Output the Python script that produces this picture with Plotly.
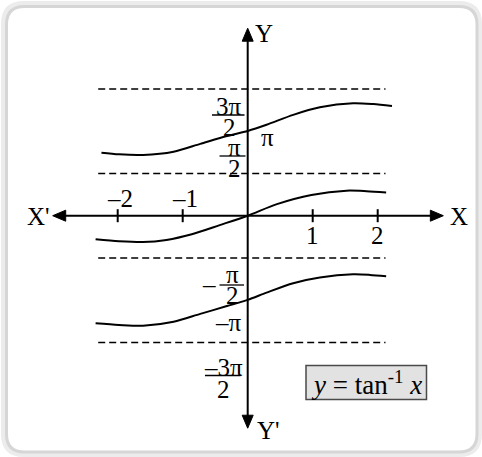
import math
import plotly.graph_objects as go

# ---------------- data ----------------
PI = math.pi
# principal branch (through the origin)
x_mid = [-2.34, -1.98, -1.61, -1.25, -0.86, -0.43, 0.0, 0.45, 0.98, 1.52, 1.83, 2.13]
y_mid = [-0.88, -0.95, -0.98, -0.90, -0.69, -0.35, 0.0, 0.43, 0.77, 0.93, 0.91, 0.86]
# upper branch (through pi)
x_up = [-2.25, -1.98, -1.61, -1.14, -0.73, -0.32, 0.0, 0.29, 0.70, 1.11, 1.62, 1.93, 2.22]
y_up = [2.34, 2.28, 2.26, 2.38, 2.67, 2.96, 3.15, 3.38, 3.75, 4.03, 4.18, 4.15, 4.08]
# lower branch (through -pi)
x_low = [-2.34, -1.98, -1.61, -1.14, -0.73, -0.32, 0.0, 0.29, 0.70, 1.11, 1.62, 1.88, 2.13]
y_low = [-4.00, -4.06, -4.09, -3.94, -3.65, -3.36, -3.13, -2.86, -2.51, -2.30, -2.18, -2.20, -2.25]

asymptote_y = [3 * PI / 2, PI / 2, -PI / 2, -3 * PI / 2]
asymptote_x = [-2.30, 2.12]

x_ticks = [-2, -1, 1, 2]
x_tick_labels = ["\u20132", "\u20131", "1", "2"]
x_axis_ends = [-3.0, 3.01]
y_axis_ends = [-7.9, 6.97]

# ---------------- layout helpers (pixel <-> data) ----------------
W, H = 482, 457
X0, SX = 247.7, 65.0     # pixel of x=0, pixels per x unit
Y0, SY = 215.7, 26.9     # pixel of y=0, pixels per y unit


def dx(px):
    return (px - X0) / SX


def dy(py):
    return (Y0 - py) / SY


def ux(pixels):
    return pixels / SX


def uy(pixels):
    return pixels / SY


FONT = "Liberation Serif"
FS = 25

fig = go.Figure()

line_style = dict(color="black", width=2, shape="spline", smoothing=0.8)
for xs, ys in [(x_up, y_up), (x_mid, y_mid), (x_low, y_low)]:
    fig.add_trace(go.Scatter(x=xs, y=ys, mode="lines", line=line_style,
                             hoverinfo="skip", showlegend=False))

shapes = []
# dashed asymptotes
for yv in asymptote_y:
    shapes.append(dict(type="line", xref="x", yref="y",
                       x0=asymptote_x[0], x1=asymptote_x[1], y0=yv, y1=yv,
                       line=dict(color="black", width=1.4, dash="7px,4px")))

# axes
shapes.append(dict(type="line", xref="x", yref="y", x0=x_axis_ends[0] + ux(4), x1=x_axis_ends[1] - ux(4),
                   y0=0, y1=0, line=dict(color="black", width=2)))
shapes.append(dict(type="line", xref="x", yref="y", x0=0, x1=0,
                   y0=y_axis_ends[0] + uy(4), y1=y_axis_ends[1] - uy(4),
                   line=dict(color="black", width=2)))

# arrow heads
AL, AW = 13, 5.5


def tri(points):
    return "M " + " L ".join(f"{a},{b}" for a, b in points) + " Z"


arrow_paths = [
    tri([(x_axis_ends[0], 0), (x_axis_ends[0] + ux(AL), uy(AW)), (x_axis_ends[0] + ux(AL), -uy(AW))]),
    tri([(x_axis_ends[1], 0), (x_axis_ends[1] - ux(AL), uy(AW)), (x_axis_ends[1] - ux(AL), -uy(AW))]),
    tri([(0, y_axis_ends[1]), (ux(AW), y_axis_ends[1] - uy(AL)), (-ux(AW), y_axis_ends[1] - uy(AL))]),
    tri([(0, y_axis_ends[0]), (ux(AW), y_axis_ends[0] + uy(AL)), (-ux(AW), y_axis_ends[0] + uy(AL))]),
]
for p in arrow_paths:
    shapes.append(dict(type="path", xref="x", yref="y", path=p,
                       fillcolor="black", line=dict(color="black", width=1)))

# tick marks
for t in x_ticks:
    shapes.append(dict(type="line", xref="x", yref="y", x0=t, x1=t,
                       y0=-uy(6.5), y1=uy(6.5), line=dict(color="black", width=2)))

annotations = []


def txt(s, px, py, size=FS, xanchor="center"):
    annotations.append(dict(x=dx(px), y=dy(py), xref="x", yref="y", text=s,
                            showarrow=False, xanchor=xanchor, yanchor="middle",
                            font=dict(family=FONT, size=size, color="black")))


def bar(px0, px1, py):
    shapes.append(dict(type="line", xref="x", yref="y", x0=dx(px0), x1=dx(px1),
                       y0=dy(py), y1=dy(py), line=dict(color="black", width=1.3)))


# tick labels
for t, lab in zip(x_ticks, x_tick_labels):
    py = 198.0 if t < 0 else 235.5
    annotations.append(dict(x=t + (ux(2) if t < 0 else 0), y=dy(py), xref="x", yref="y", text=lab,
                            showarrow=False, xanchor="center", yanchor="middle",
                            font=dict(family=FONT, size=FS, color="black")))

# axis names
txt("X'", 38.5, 216.5)
txt("X", 458.5, 216.5)
txt("Y", 263.5, 33.5)
txt("Y'", 268.5, 430.5)

# fraction labels
txt("3\u03c0", 229, 106)
bar(212, 244.5, 115)
txt("2", 229, 127.5)

txt("\u03c0", 267, 137)

txt("\u03c0", 234.5, 147)
bar(219.5, 245.5, 156)
txt("2", 234.5, 168.5)

txt("\u2013", 208.5, 284)
txt("\u03c0", 232.5, 274.5)
bar(219.5, 244, 285)
txt("2", 232.5, 295.5)

txt("\u2013\u03c0", 228.5, 322)

txt("\u20133\u03c0", 223, 367)
bar(205, 240.5, 375.5)
txt("2", 223, 389)

# formula box
shapes.append(dict(type="rect", xref="x", yref="y", x0=dx(306), x1=dx(426.5),
                   y0=dy(399.5), y1=dy(365.5), fillcolor="#e2e2e2",
                   line=dict(color="#4a4a4a", width=1.5), layer="below"))
txt("<i>y</i> = tan<sup>-1</sup> <i>x</i>", 366.5, 382.5, size=27)


# outer rounded frame (paper coords)
def P(px, py):
    return f"{px / W},{1 - py / H}"


def rounded(x0, y0, x1, y1, r):
    return ("M " + P(x0 + r, y0) + " L " + P(x1 - r, y0) + " Q " + P(x1, y0) + " " + P(x1, y0 + r) +
            " L " + P(x1, y1 - r) + " Q " + P(x1, y1) + " " + P(x1 - r, y1) +
            " L " + P(x0 + r, y1) + " Q " + P(x0, y1) + " " + P(x0, y1 - r) +
            " L " + P(x0, y0 + r) + " Q " + P(x0, y0) + " " + P(x0 + r, y0) + " Z")


shapes.append(dict(type="path", xref="paper", yref="paper", path=rounded(4, 4, 479, 454, 20),
                   line=dict(color="#ececec", width=6), layer="below"))
shapes.append(dict(type="path", xref="paper", yref="paper", path=rounded(6.5, 6.5, 477, 452, 18),
                   line=dict(color="#d6d6d6", width=3), layer="below"))

fig.update_layout(
    width=W, height=H, autosize=False,
    margin=dict(l=0, r=0, t=0, b=0),
    paper_bgcolor="white", plot_bgcolor="white",
    font=dict(family=FONT, color="black", size=FS),
    xaxis=dict(range=[dx(0), dx(W)], visible=False, fixedrange=True),
    yaxis=dict(range=[dy(H), dy(0)], visible=False, fixedrange=True),
    shapes=shapes, annotations=annotations, showlegend=False,
)

fig.write_html("out.html", config={"displayModeBar": False},
               post_script="document.body.style.margin='0';document.body.style.overflow='hidden';")
